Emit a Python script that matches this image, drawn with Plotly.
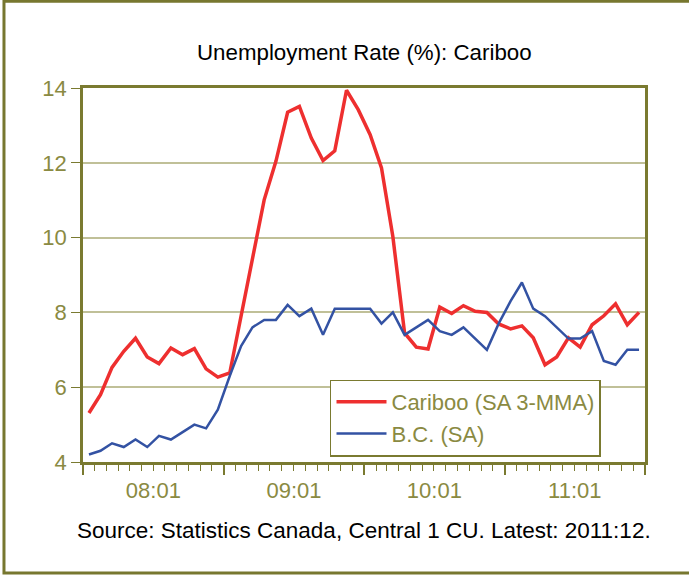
import plotly.graph_objects as go
import pandas as pd

# ---- data -------------------------------------------------------------
months = pd.date_range("2008-01-01", periods=48, freq="MS")  # 2008:01 .. 2011:12

cariboo = [5.31, 5.80, 6.53, 6.96, 7.31, 6.81, 6.63, 7.05, 6.87, 7.03, 6.49, 6.27,
           6.38, 7.87, 9.36, 11.01, 12.04, 13.35, 13.51, 12.66, 12.06, 12.32, 13.94, 13.42,
           12.75, 11.86, 10.03, 7.45, 7.07, 7.02, 8.14, 7.97, 8.18, 8.03, 8.00, 7.69,
           7.56, 7.64, 7.32, 6.60, 6.81, 7.32, 7.07, 7.67, 7.91, 8.23, 7.67, 8.00]

bc = [4.2, 4.3, 4.5, 4.4, 4.6, 4.4, 4.7, 4.6, 4.8, 5.0, 4.9, 5.4,
      6.3, 7.1, 7.6, 7.8, 7.8, 8.2, 7.9, 8.1, 7.4, 8.1, 8.1, 8.1,
      8.1, 7.7, 8.0, 7.4, 7.6, 7.8, 7.5, 7.4, 7.6, 7.3, 7.0, 7.7,
      8.3, 8.8, 8.1, 7.9, 7.6, 7.3, 7.3, 7.5, 6.7, 6.6, 7.0, 7.0]

series_names = ["Cariboo (SA 3-MMA)", "B.C. (SA)"]
y_ticks = [4, 6, 8, 10, 12, 14]
x_tick_format = "%y:01"   # yields 08:01, 09:01, ... centred on each year
title_text = "Unemployment Rate (%): Cariboo"
source_text = "Source: Statistics Canada, Central 1 CU. Latest: 2011:12."

# ---- style ------------------------------------------------------------
FONT = "Liberation Sans, Arial, sans-serif"
OLIVE_AXIS = "#7a7a30"
OLIVE_TEXT = "#8a8a42"
GRID = "#c0c098"
RED = "#ee2f2f"
BLUE = "#3352a3"

fig = go.Figure()
fig.add_trace(go.Scatter(x=months, y=cariboo, mode="lines", name=series_names[0],
                         xperiod="M1", xperiodalignment="middle",
                         line=dict(color=RED, width=3.5)))
fig.add_trace(go.Scatter(x=months, y=bc, mode="lines", name=series_names[1],
                         xperiod="M1", xperiodalignment="middle",
                         line=dict(color=BLUE, width=2.5)))

fig.update_layout(
    width=689, height=577,
    margin=dict(l=83, r=44, t=88, b=115),
    paper_bgcolor="white", plot_bgcolor="white",
    font=dict(family=FONT, size=22, color=OLIVE_TEXT),
    showlegend=True,
    legend=dict(x=0.4395, y=0.1176, xanchor="left", yanchor="middle",
                bgcolor="white", bordercolor=OLIVE_AXIS, borderwidth=1.5,
                font=dict(family=FONT, size=22, color=OLIVE_TEXT),
                itemwidth=50, tracegroupgap=0),
    xaxis=dict(type="date", range=["2008-01-01", "2012-01-01"],
               tick0="2008-01-01", dtick="M12", tickformat=x_tick_format,
               ticklabelmode="period", ticks="outside", ticklen=10, tickwidth=1.5,
               tickcolor=OLIVE_AXIS, showline=True, linecolor=OLIVE_AXIS, linewidth=2.5,
               mirror=True, showgrid=False, zeroline=False, ticklabelstandoff=-3,
               tickfont=dict(family=FONT, size=22, color=OLIVE_TEXT),
               minor=dict(dtick="M1", ticks="outside", ticklen=6, tickwidth=1.2,
                          tickcolor=OLIVE_AXIS, showgrid=False)),
    yaxis=dict(range=[4, 14], tickvals=y_ticks, ticks="outside", ticklen=9, tickwidth=1.2,
               tickcolor=OLIVE_AXIS, showline=True, linecolor=OLIVE_AXIS, linewidth=2.5,
               mirror=True, showgrid=True, gridcolor=GRID, gridwidth=1.5, zeroline=False,
               ticklabelstandoff=0,
               tickfont=dict(family=FONT, size=22, color=OLIVE_TEXT)),
    annotations=[
        dict(text=title_text, xref="paper", yref="paper", x=0.5, y=1.096,
             xanchor="center", yanchor="middle", showarrow=False,
             font=dict(family=FONT, size=22.3, color="black")),
        dict(text=source_text, xref="paper", yref="paper", x=0.5, y=-0.182,
             xanchor="center", yanchor="middle", showarrow=False,
             font=dict(family=FONT, size=22.5, color="black")),
    ],
    shapes=[dict(type="rect", xref="paper", yref="paper",
                 x0=-0.1406, x1=1.09, y0=-0.2968, y1=1.232,
                 line=dict(color="#77772f", width=3), fillcolor="rgba(0,0,0,0)",
                 layer="below")],
)

fig.write_html("out.html", config={"displayModeBar": False},
               post_script="document.body.style.margin='0';")
